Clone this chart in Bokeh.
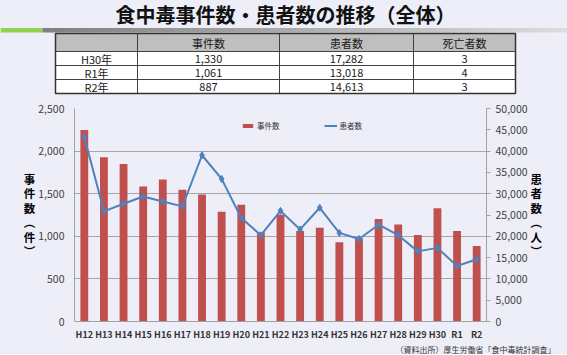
from bokeh.plotting import figure
from bokeh.layouts import column
from bokeh.models import (Range1d, FactorRange, LinearAxis, SingleIntervalTicker,
                          NumeralTickFormatter, Legend, LegendItem)
from bokeh.embed import file_html
from bokeh.resources import INLINE
from bokeh.core.properties import value
import numpy as np

# ---------------- data ----------------
title_text = "食中毒事件数・患者数の推移（全体）"
years = ["H12", "H13", "H14", "H15", "H16", "H17", "H18", "H19", "H20", "H21", "H22",
         "H23", "H24", "H25", "H26", "H27", "H28", "H29", "H30", "R1", "R2"]
cases = [2247, 1928, 1850, 1585, 1666, 1545, 1491, 1289, 1369, 1048, 1254,
         1062, 1100, 931, 976, 1202, 1139, 1014, 1330, 1061, 887]
patients = [43307, 25862, 27629, 29355, 28175, 27019, 39026, 33477, 24303, 20249, 25972,
            21616, 26699, 20802, 19355, 22718, 20252, 16464, 17282, 13018, 14613]
table_header = ["", "事件数", "患者数", "死亡者数"]
table_years = ["H30年", "R1年", "R2年"]
table_cases = [1330, 1061, 887]
table_patients = [17282, 13018, 14613]
table_deaths = [3, 4, 3]
left_title = "事\n件\n数\n︵\n件\n︶"
right_title = "患\n者\n数\n︵\n人\n︶"
legend_cases = "事件数"
legend_patients = "患者数"
source_note = "（資料出所）厚生労働省「食中毒統計調査」"

BG = "#EEEEF8"
FONT = "Noto Sans CJK JP"
BAR = "#C0504D"
LINE = "#4F81BD"


def blank(h):
    f = figure(width=567, height=h, x_range=Range1d(0, 567), y_range=Range1d(h, 0),
               output_backend="svg", toolbar_location=None, min_border=0, title=None,
               x_axis_location=None, y_axis_location=None)
    f.grid.visible = False
    f.outline_line_color = None
    f.background_fill_color = BG
    f.border_fill_color = BG
    f.frame_align = False
    return f


# ---------------- top: title + table ----------------
top = blank(95)
top.text(x=[285], y=[14], text=[title_text], text_font=value(FONT), text_font_size="20px",
         text_font_style="bold", text_align="center", text_baseline="middle", text_color="#111111")

# separator bar
top.quad(left=[0], right=[42], top=[27.5], bottom=[32], fill_color="#92D050", line_color=None)
n = 60
edges = np.linspace(42, 567, n + 1)
shades = np.linspace(0x80, 0xDC, n).astype(int)
top.quad(left=edges[:-1], right=edges[1:] + 0.5, top=[27.5] * n, bottom=[32] * n,
         fill_color=["#%02x%02x%02x" % (s, s, s) for s in shades], line_color=None)

# table
col_edges = [55, 137, 279, 413, 515]
row_edges = [33, 51, 65, 79, 93]
top.quad(left=[col_edges[0]], right=[col_edges[-1]], top=[row_edges[0]], bottom=[row_edges[1]],
         fill_color="#BFBFBF", line_color=None)
top.quad(left=[col_edges[0]], right=[col_edges[-1]], top=[row_edges[1]], bottom=[row_edges[-1]],
         fill_color="#FFFFFF", line_color=None)
top.segment(x0=[col_edges[0]] * 3, x1=[col_edges[-1]] * 3, y0=row_edges[1:-1], y1=row_edges[1:-1],
            line_color="#404040", line_width=1)
top.segment(x0=col_edges[1:-1], x1=col_edges[1:-1], y0=[row_edges[0]] * 3, y1=[row_edges[-1]] * 3,
            line_color="#404040", line_width=1)
top.quad(left=[col_edges[0]], right=[col_edges[-1]], top=[row_edges[0]], bottom=[row_edges[-1]],
         fill_color=None, line_color="#333333", line_width=1.5)

col_centers = [(a + b) / 2 for a, b in zip(col_edges[:-1], col_edges[1:])]
row_centers = [(a + b) / 2 for a, b in zip(row_edges[:-1], row_edges[1:])]
tx, ty, tt = [], [], []
for c, h in zip(col_centers, table_header):
    tx.append(c); ty.append(row_centers[0]); tt.append(h)
for i, (yr, ca, pa, de) in enumerate(zip(table_years, table_cases, table_patients, table_deaths)):
    for c, s in zip(col_centers, [yr, f"{ca:,}", f"{pa:,}", f"{de}"]):
        tx.append(c); ty.append(row_centers[i + 1]); tt.append(s)
top.text(x=tx, y=ty, text=tt, text_font=value(FONT), text_font_size="11px",
         text_align="center", text_baseline="middle", text_color="#1A1A1A")

# ---------------- chart ----------------
p = figure(frame_width=412, frame_height=213, x_range=FactorRange(factors=years, range_padding=0),
           y_range=Range1d(0, 2500), output_backend="svg", toolbar_location=None, title=None,
           min_border_left=74, min_border_right=81, min_border_top=13, min_border_bottom=0)
p.frame_align = False
p.background_fill_color = BG
p.border_fill_color = BG
p.outline_line_color = None
p.extra_y_ranges = {"pat": Range1d(0, 50000)}

bars = p.vbar(x=years, top=cases, width=0.4, fill_color=BAR, line_color=None)
ln = p.line(x=years, y=patients, y_range_name="pat", line_color=LINE, line_width=2)
sc = p.scatter(x=years, y=patients, y_range_name="pat", marker="diamond", size=7,
               fill_color=LINE, line_color=LINE)

ly = p.yaxis[0]
ly.ticker = SingleIntervalTicker(interval=500, num_minor_ticks=0)
ly.formatter = NumeralTickFormatter(format="0,0")
ly.major_tick_out = 0
ly.major_tick_in = 0
ly.minor_tick_out = 0
ly.major_label_standoff = 10
ly.axis_label = left_title
ly.axis_label_standoff = 0

ry = LinearAxis(y_range_name="pat", ticker=SingleIntervalTicker(interval=5000, num_minor_ticks=0),
                formatter=NumeralTickFormatter(format="0,0"))
ry.major_tick_out = 4
ry.major_tick_in = 0
ry.minor_tick_out = 0
ry.major_label_standoff = 5
ry.axis_label = right_title
ry.axis_label_standoff = 0
p.add_layout(ry, "right")

for ax in [ly, ry]:
    ax.axis_line_color = "#A0A0A0"
    ax.major_tick_line_color = "#A0A0A0"
    ax.major_label_text_font = FONT
    ax.major_label_text_font_size = "10.5px"
    ax.major_label_text_color = "#404040"
    ax.axis_label_orientation = "horizontal"
    ax.axis_label_text_font = FONT
    ax.axis_label_text_font_size = "11.5px"
    ax.axis_label_text_font_style = "bold"
    ax.axis_label_text_color = "#000000"
    ax.axis_label_text_line_height = 0.9

xa = p.xaxis[0]
xa.axis_line_color = "#A0A0A0"
xa.major_tick_line_color = None
xa.major_tick_out = 0
xa.major_tick_in = 0
xa.major_label_standoff = 6
xa.axis_label_standoff = 0
xa.major_label_text_font = FONT
xa.major_label_text_font_size = "9px"
xa.major_label_text_font_style = "bold"
xa.major_label_text_color = "#333333"

p.xgrid.grid_line_color = None
p.ygrid.grid_line_color = "#A6A6A6"
p.ygrid.grid_line_width = 1

legend = Legend(items=[LegendItem(label=legend_cases, renderers=[bars]),
                       LegendItem(label=legend_patients, renderers=[ln, sc])],
                orientation="horizontal", location=(167, 190), glyph_width=13, glyph_height=5,
                label_height=5, label_standoff=3, spacing=44, padding=0, margin=0,
                border_line_color=None, background_fill_alpha=0,
                label_text_font=FONT, label_text_font_size="7.5px", label_text_color="#333333")
p.add_layout(legend, "center")

# ---------------- bottom: source note ----------------
src = blank(11)
src.text(x=[555], y=[4.5], text=[source_note], text_font=value(FONT), text_font_size="8px",
         text_align="right", text_baseline="middle", text_color="#333333")

layout = column(top, p, src, spacing=0)
layout.styles = {"background-color": BG, "gap": "0px"}
open("out.html", "w").write(file_html(layout, INLINE))
